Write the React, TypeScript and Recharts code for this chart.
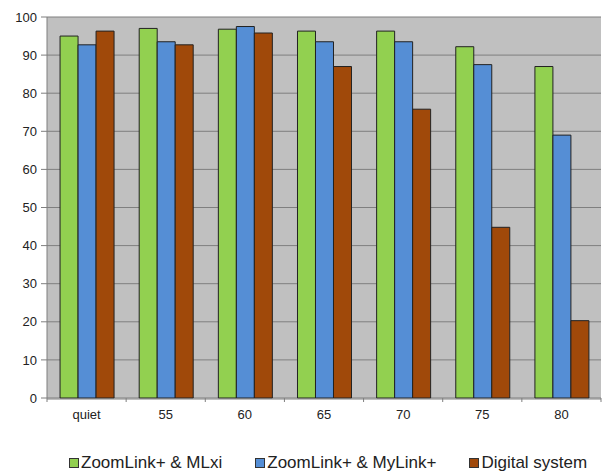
import React from "react";
import { BarChart, Bar, XAxis, YAxis, CartesianGrid, Legend } from "recharts";

const categories = ["quiet", "55", "60", "65", "70", "75", "80"];
const zoomLinkMLxi = [95, 97, 96.8, 96.3, 96.3, 92.2, 87];
const zoomLinkMyLink = [92.7, 93.5, 97.5, 93.5, 93.5, 87.5, 69];
const digitalSystem = [96.3, 92.7, 95.8, 87, 75.8, 44.8, 20.3];
const yTicks = [0, 10, 20, 30, 40, 50, 60, 70, 80, 90, 100];
const boundaryTicks = [0, 1, 2, 3, 4, 5, 6, 7];

const seriesNames = ["ZoomLink+ & MLxi", "ZoomLink+ & MyLink+", "Digital system"];
const colors = ["#92d050", "#558ed5", "#a0490a"];

const data = categories.map((c, i) => ({
  cat: c,
  idx: i + 0.5,
  a: zoomLinkMLxi[i],
  b: zoomLinkMyLink[i],
  c: digitalSystem[i],
}));

const font = '"Liberation Sans", Arial, sans-serif';

const EmptyTick = () => <g />;

const LegendContent = () => (
  <div
    style={{
      display: "flex",
      justifyContent: "flex-start",
      fontFamily: font,
      fontSize: 17,
      color: "#222",
      paddingLeft: 69,
    }}
  >
    {seriesNames.map((n, i) => (
      <div key={n} style={{ display: "flex", alignItems: "center", marginRight: i < 2 ? 33 : 0 }}>
        <span
          style={{
            display: "inline-block",
            width: 8,
            height: 8,
            background: colors[i],
            border: "1px solid #333",
            marginRight: 2,
          }}
        />
        <span>{n}</span>
      </div>
    ))}
  </div>
);

export default function App() {
  return (
    <div style={{ position: "absolute", left: 0, top: 0, width: 604, height: 471, background: "#fff" }}>
      <BarChart
        width={604}
        height={471}
        data={data}
        margin={{ top: 17, right: 3, left: 0, bottom: 19 }}
        barCategoryGap="16.5%"
        barGap={0}
      >
        <CartesianGrid xAxisId="main" vertical={false} stroke="#7f7f7f" fill="#c0c0c0" />
        <XAxis
          xAxisId="a"
          type="number"
          dataKey="idx"
          domain={[0, 7]}
          ticks={boundaryTicks}
          tick={<EmptyTick />}
          axisLine={false}
          tickLine={{ stroke: "#7f7f7f" }}
          tickSize={4}
          height={1}
          allowDataOverflow
        />
        <XAxis
          xAxisId="main"
          dataKey="cat"
          axisLine={{ stroke: "#7f7f7f" }}
          tickLine={false}
          tick={{ fill: "#222", fontSize: 13, fontFamily: font }}
          tickMargin={5}
          height={29}
        />
        <YAxis
          domain={[0, 100]}
          ticks={yTicks}
          width={47}
          axisLine={{ stroke: "#7f7f7f" }}
          tickLine={{ stroke: "#7f7f7f" }}
          tickSize={6}
          tickMargin={4}
          tick={{ fill: "#222", fontSize: 13, fontFamily: font }}
          interval={0}
        />
        <Legend verticalAlign="bottom" height={24} wrapperStyle={{ top: 453 }} content={<LegendContent />} />
        <Bar xAxisId="main" dataKey="a" name={seriesNames[0]} fill={colors[0]} stroke="#222" strokeWidth={1} isAnimationActive={false} />
        <Bar xAxisId="main" dataKey="b" name={seriesNames[1]} fill={colors[1]} stroke="#222" strokeWidth={1} isAnimationActive={false} />
        <Bar xAxisId="main" dataKey="c" name={seriesNames[2]} fill={colors[2]} stroke="#222" strokeWidth={1} isAnimationActive={false} />
      </BarChart>
    </div>
  );
}
